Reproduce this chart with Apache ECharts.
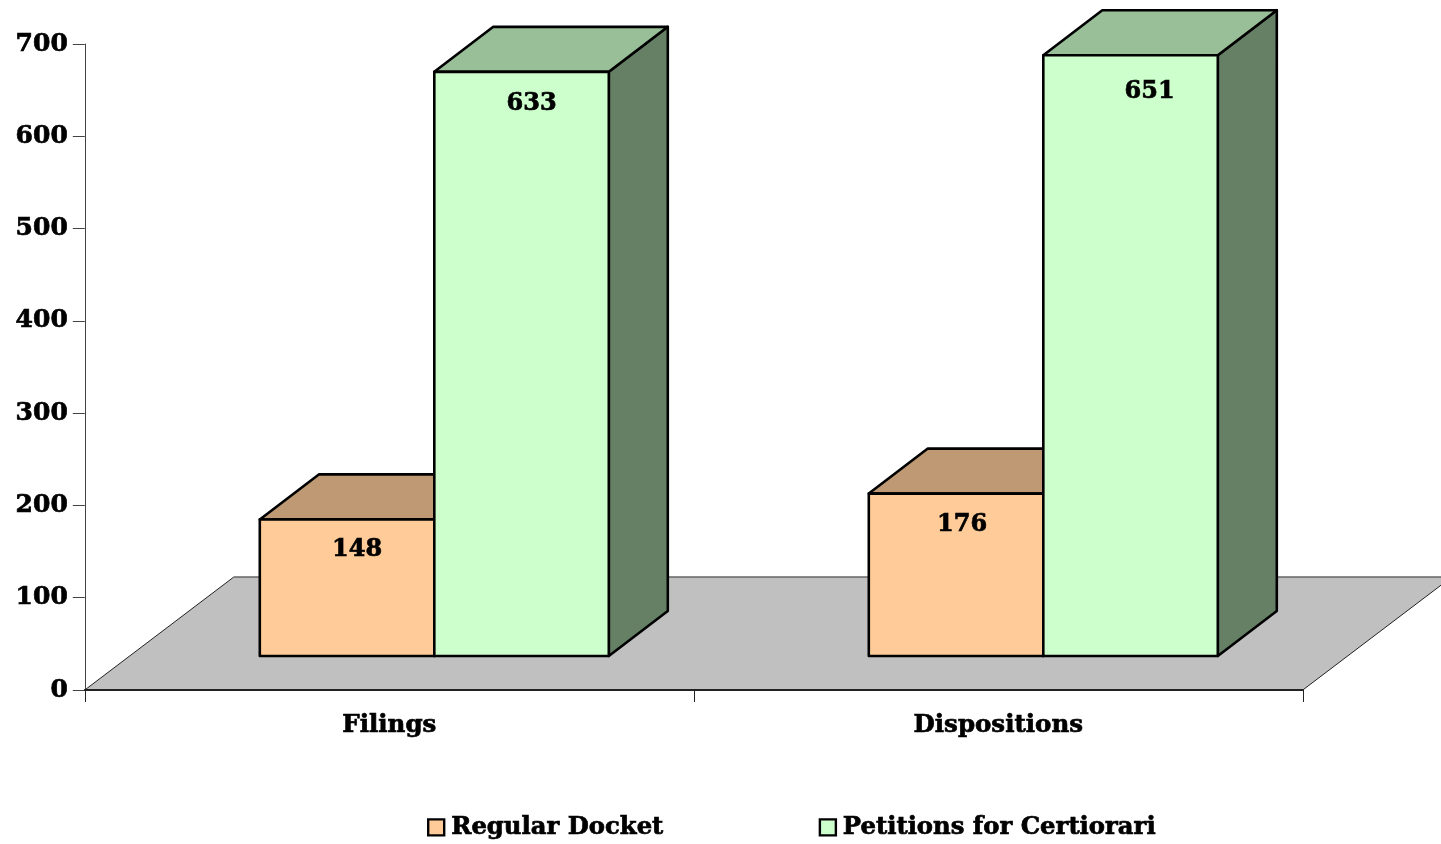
<!DOCTYPE html>
<html>
<head>
<meta charset="utf-8">
<style>html,body{margin:0;padding:0;background:#fff}#c{width:1441px;height:844px}</style>
<script src="https://cdn.jsdelivr.net/npm/echarts@6/dist/echarts.min.js"></script>
</head>
<body>
<div id="c"></div>
<script>
const categories = ['Filings', 'Dispositions'];
const regularDocket = [148, 176];
const petitions = [633, 651];
const yTicks = [0, 100, 200, 300, 400, 500, 600, 700];
const seriesNames = ['Regular Docket', 'Petitions for Certiorari'];

const FONT = '"DejaVu Serif"';
const chart = echarts.init(document.getElementById('c'), null, {renderer: 'canvas'});

// 3-D projection settings (pixels)
const FLOOR_DX = 149, FLOOR_DY = -113;   // depth of the floor
const BAR_DX = 45, BAR_DY = -34;         // bar front plane inset from the axis plane
const DEPTH_DX = 59, DEPTH_DY = -45;     // depth of a bar
const BAR_FRACTION = 174.5 / 609;        // bar width as share of a category band

// per-bar nudges of the value labels (series, category) -> [dx, dy]
const labelNudge = [[[10, 30], [6, 31]], [[10, 32], [19, 37]]];

// heavier text, closer to the reference's black serif
const heavy = {fontFamily: FONT, fontWeight: 'bold', fontSize: 24, color: '#000',
  textBorderColor: '#000', textBorderWidth: 0.7};

function floorItem(params, api) {
  const band = api.size([1, 0])[0];
  const a = api.coord([0, 0]), b = api.coord([categories.length - 1, 0]);
  const x0 = a[0] - band / 2, x1 = b[0] + band / 2, y = a[1];
  const p = [[x0, y], [x1, y], [x1 + FLOOR_DX, y + FLOOR_DY], [x0 + FLOOR_DX, y + FLOOR_DY]];
  return {type: 'group', children: [
    {type: 'polygon', shape: {points: p}, style: {fill: '#c0c0c0'}},
    {type: 'line', shape: {x1: p[0][0], y1: p[0][1], x2: p[3][0], y2: p[3][1]}, style: {stroke: '#222', lineWidth: 1}},
    {type: 'line', shape: {x1: p[1][0], y1: p[1][1], x2: p[2][0], y2: p[2][1]}, style: {stroke: '#222', lineWidth: 1}},
    {type: 'line', shape: {x1: p[3][0], y1: p[3][1], x2: p[2][0], y2: p[2][1]}, style: {stroke: '#666', lineWidth: 1.5}}
  ]};
}

function barRenderer(seriesIndex, front, top, side) {
  return function (params, api) {
    const cat = api.value(0), val = api.value(1);
    const band = api.size([1, 0])[0];
    const w = band * BAR_FRACTION;
    const c = api.coord([cat, 0]), t = api.coord([cat, val]);
    const l = c[0] + BAR_DX + (seriesIndex === 0 ? -w : 0);
    const r = l + w, b = c[1] + BAR_DY, y = t[1] + BAR_DY;
    const st = f => ({fill: f, stroke: '#000', lineWidth: 2.6, lineJoin: 'round'});
    const n = labelNudge[seriesIndex][cat];
    return {type: 'group', children: [
      {type: 'polygon', shape: {points: [[r, y], [r + DEPTH_DX, y + DEPTH_DY], [r + DEPTH_DX, b + DEPTH_DY], [r, b]]}, style: st(side)},
      {type: 'polygon', shape: {points: [[l, y], [l + DEPTH_DX, y + DEPTH_DY], [r + DEPTH_DX, y + DEPTH_DY], [r, y]]}, style: st(top)},
      {type: 'rect', shape: {x: l, y: y, width: w, height: b - y}, style: st(front)},
      {type: 'text', x: (l + r) / 2 + n[0], y: y + n[1], style: {
        text: String(val), fill: '#000', align: 'center', verticalAlign: 'middle',
        stroke: '#000', lineWidth: 0.7,
        font: 'bold 24px ' + FONT}}
    ]};
  };
}

chart.setOption({
  animation: false,
  backgroundColor: '#fff',
  grid: {left: 84.8, top: 44, width: 1218, height: 646},
  legend: {
    data: seriesNames, left: 422, top: 810, itemWidth: 16, itemHeight: 16, itemGap: 155,
    icon: 'rect',
    itemStyle: {borderColor: '#000', borderWidth: 2.4},
    textStyle: Object.assign({}, heavy, {fontSize: 24.3, padding: [0, 0, 0, 2]})
  },
  xAxis: {
    type: 'category', data: categories, z: 3,
    axisLine: {lineStyle: {color: '#222', width: 2}},
    axisTick: {show: true, length: 12, lineStyle: {color: '#222', width: 1}},
    axisLabel: Object.assign({}, heavy, {fontSize: 24.5, margin: 23})
  },
  yAxis: {
    type: 'value', min: 0, max: 700, interval: 100,
    splitLine: {show: false},
    axisLine: {show: true, lineStyle: {color: '#444', width: 1}},
    axisTick: {show: true, length: 12, lineStyle: {color: '#444', width: 1}},
    axisLabel: Object.assign({}, heavy, {fontSize: 25, margin: 17, padding: [5, 0, 0, 0], customValues: yTicks})
  },
  series: [
    {type: 'custom', silent: true, clip: false, z: 1, data: [[0, 0]], renderItem: floorItem,
     encode: {x: 0, y: 1}},
    {type: 'custom', name: seriesNames[0], silent: true, clip: false, z: 4,
     itemStyle: {color: '#ffcc99'},
     data: regularDocket.map((v, i) => [i, v]), encode: {x: 0, y: 1},
     renderItem: barRenderer(0, '#ffcc99', '#bf9973', '#806650')},
    {type: 'custom', name: seriesNames[1], silent: true, clip: false, z: 5,
     itemStyle: {color: '#ccffcc'},
     data: petitions.map((v, i) => [i, v]), encode: {x: 0, y: 1},
     renderItem: barRenderer(1, '#ccffcc', '#99bf99', '#668066')}
  ]
});
</script>
</body>
</html>
